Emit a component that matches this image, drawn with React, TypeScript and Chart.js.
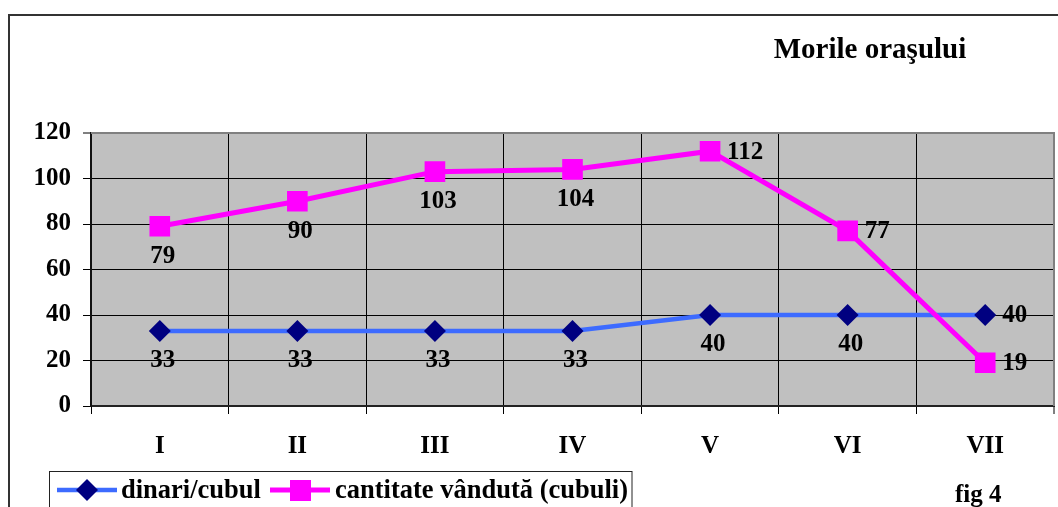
import React, { useEffect, useRef } from 'react';
import { Chart, registerables } from 'chart.js';

Chart.register(...registerables);

// ---- data ----
const categories = ['I', 'II', 'III', 'IV', 'V', 'VI', 'VII'];
const dinariCubul = [33, 33, 33, 33, 40, 40, 40];
const cantitateVanduta = [79, 90, 103, 104, 112, 77, 19];
const yTickValues = [0, 20, 40, 60, 80, 100, 120];
const seriesNames = ['dinari/cubul', 'cantitate vândută (cubuli)'];
const titleText = 'Morile oraşului';
const figText = 'fig 4';

// ---- label placement (style, not data) ----
const placeDinari = ['below', 'below', 'below', 'below', 'below', 'below', 'right'];
const placeCantitate = ['below', 'below', 'below', 'below', 'right', 'right', 'right'];

const FONT = "'Liberation Serif', 'Times New Roman', serif";
const BLUE = '#3D6BFF';
const NAVY = '#000080';
const MAGENTA = '#FF00FF';

const decorPlugin = {
  id: 'decor',
  beforeDraw(chart: any) {
    const { ctx, chartArea: a, width, height } = chart;
    ctx.save();
    ctx.fillStyle = '#ffffff';
    ctx.fillRect(0, 0, width, height);
    ctx.fillStyle = '#C0C0C0';
    ctx.fillRect(a.left, a.top, a.right - a.left, a.bottom - a.top);
    ctx.restore();
  },
  beforeDatasetsDraw(chart: any) {
    const { ctx, chartArea: a } = chart;
    ctx.save();
    ctx.strokeStyle = '#808080';
    ctx.lineWidth = 2;
    ctx.beginPath();
    ctx.moveTo(a.left, a.top);
    ctx.lineTo(a.right, a.top);
    ctx.lineTo(a.right, a.bottom);
    ctx.stroke();
    ctx.restore();
  },
  afterDatasetsDraw(chart: any) {
    const { ctx } = chart;
    const places = [placeDinari, placeCantitate];
    ctx.save();
    ctx.fillStyle = '#000';
    ctx.font = `bold 25px ${FONT}`;
    ctx.textBaseline = 'middle';
    chart.data.datasets.forEach((ds: any, di: number) => {
      const meta = chart.getDatasetMeta(di);
      meta.data.forEach((pt: any, i: number) => {
        const txt = String(ds.data[i]);
        if (places[di][i] === 'right') {
          ctx.textAlign = 'left';
          ctx.fillText(txt, pt.x + 17, pt.y + 1);
        } else {
          ctx.textAlign = 'center';
          ctx.fillText(txt, pt.x + 3, pt.y + 30);
        }
      });
    });
    ctx.restore();
  },
  afterDraw(chart: any) {
    const { ctx, width, height } = chart;
    ctx.save();
    // outer frame
    ctx.strokeStyle = '#333';
    ctx.lineWidth = 2;
    ctx.beginPath();
    ctx.moveTo(9, height + 5);
    ctx.lineTo(9, 15);
    ctx.lineTo(width + 5, 15);
    ctx.stroke();

    // title
    ctx.fillStyle = '#000';
    ctx.font = `bold 29px ${FONT}`;
    ctx.textAlign = 'center';
    ctx.textBaseline = 'alphabetic';
    ctx.fillText(titleText, 870, 58);

    // legend box
    ctx.strokeStyle = '#222';
    ctx.lineWidth = 1;
    ctx.strokeRect(49.5, 471.5, 582.5, 100);

    const ly = 490;
    const datasets = chart.data.datasets;
    // item 1
    const d0 = datasets[0];
    ctx.strokeStyle = d0.borderColor;
    ctx.lineWidth = d0.borderWidth;
    ctx.beginPath();
    ctx.moveTo(57, ly);
    ctx.lineTo(117, ly);
    ctx.stroke();
    ctx.fillStyle = d0.pointBackgroundColor;
    ctx.beginPath();
    ctx.moveTo(76, ly);
    ctx.lineTo(87, ly - 11);
    ctx.lineTo(98, ly);
    ctx.lineTo(87, ly + 11);
    ctx.closePath();
    ctx.fill();
    // item 2
    const d1 = datasets[1];
    ctx.strokeStyle = d1.borderColor;
    ctx.lineWidth = d1.borderWidth;
    ctx.beginPath();
    ctx.moveTo(270, ly);
    ctx.lineTo(330, ly);
    ctx.stroke();
    ctx.fillStyle = d1.pointBackgroundColor;
    ctx.fillRect(290, ly - 10, 21, 21);

    ctx.fillStyle = '#000';
    ctx.font = `bold 26.5px ${FONT}`;
    ctx.textAlign = 'left';
    ctx.textBaseline = 'middle';
    ctx.fillText(seriesNames[0], 121, ly + 1);
    ctx.fillText(seriesNames[1], 335, ly + 1);

    // fig label
    ctx.font = `bold 25px ${FONT}`;
    ctx.textBaseline = 'alphabetic';
    ctx.fillText(figText, 955, 502);
    ctx.restore();
  },
};

export default function App() {
  const ref = useRef<HTMLCanvasElement | null>(null);

  useEffect(() => {
    document.body.style.margin = '0';
    const canvas = ref.current;
    if (!canvas) return;
    const chart = new Chart(canvas, {
      type: 'line',
      data: {
        labels: categories,
        datasets: [
          {
            label: seriesNames[0],
            data: dinariCubul,
            borderColor: BLUE,
            borderWidth: 4.5,
            pointStyle: 'rectRot',
            pointRadius: 11,
            pointBackgroundColor: NAVY,
            pointBorderColor: NAVY,
            pointBorderWidth: 0,
            tension: 0,
            order: 2,
          },
          {
            label: seriesNames[1],
            data: cantitateVanduta,
            borderColor: MAGENTA,
            borderWidth: 5,
            pointStyle: 'rect',
            pointRadius: 14.6,
            pointBackgroundColor: MAGENTA,
            pointBorderColor: MAGENTA,
            pointBorderWidth: 0,
            tension: 0,
            order: 1,
          },
        ],
      },
      options: {
        animation: false,
        responsive: false,
        devicePixelRatio: 1,
        layout: { autoPadding: false, padding: { top: 133, right: 4, left: 0, bottom: 0 } },
        plugins: {
          legend: { display: false },
          title: { display: false },
          tooltip: { enabled: false },
        },
        scales: {
          x: {
            type: 'category',
            offset: true,
            grid: {
              offset: true,
              color: (c: any) => (c.type === 'scale' ? '#808080' : '#000'),
              lineWidth: (c: any) => (c.type === 'scale' ? 2 : 1),
              tickLength: 8,
              tickColor: '#000',
              tickWidth: 1,
            },
            border: { color: '#222', width: 2 },
            ticks: {
              color: '#000',
              font: { family: FONT, size: 25, weight: 'bold' },
              padding: 18,
              maxRotation: 0,
            },
            afterFit: (s: any) => {
              s.height = 101;
              s.paddingLeft = 0;
              s.paddingRight = 0;
            },
          },
          y: {
            min: 0,
            max: 120,
            afterBuildTicks: (s: any) => {
              s.ticks = yTickValues.map((v) => ({ value: v }));
            },
            grid: {
              color: (c: any) => (c.tick && c.tick.value === 120 ? '#808080' : '#000'),
              lineWidth: (c: any) => (c.tick && c.tick.value === 120 ? 2 : 1),
              tickLength: 8,
              tickColor: '#000',
              tickWidth: 1,
            },
            border: { color: '#111', width: 2 },
            ticks: {
              color: '#000',
              font: { family: FONT, size: 25, weight: 'bold' },
              padding: 12,
            },
            afterFit: (s: any) => {
              s.width = 91;
              s.paddingTop = 0;
              s.paddingBottom = 0;
            },
          },
        },
      },
      plugins: [decorPlugin],
    } as any);
    return () => chart.destroy();
  }, []);

  return (
    <div style={{ width: 1058, height: 507, overflow: 'hidden' }}>
      <canvas ref={ref} width={1058} height={507} style={{ display: 'block' }} />
    </div>
  );
}
